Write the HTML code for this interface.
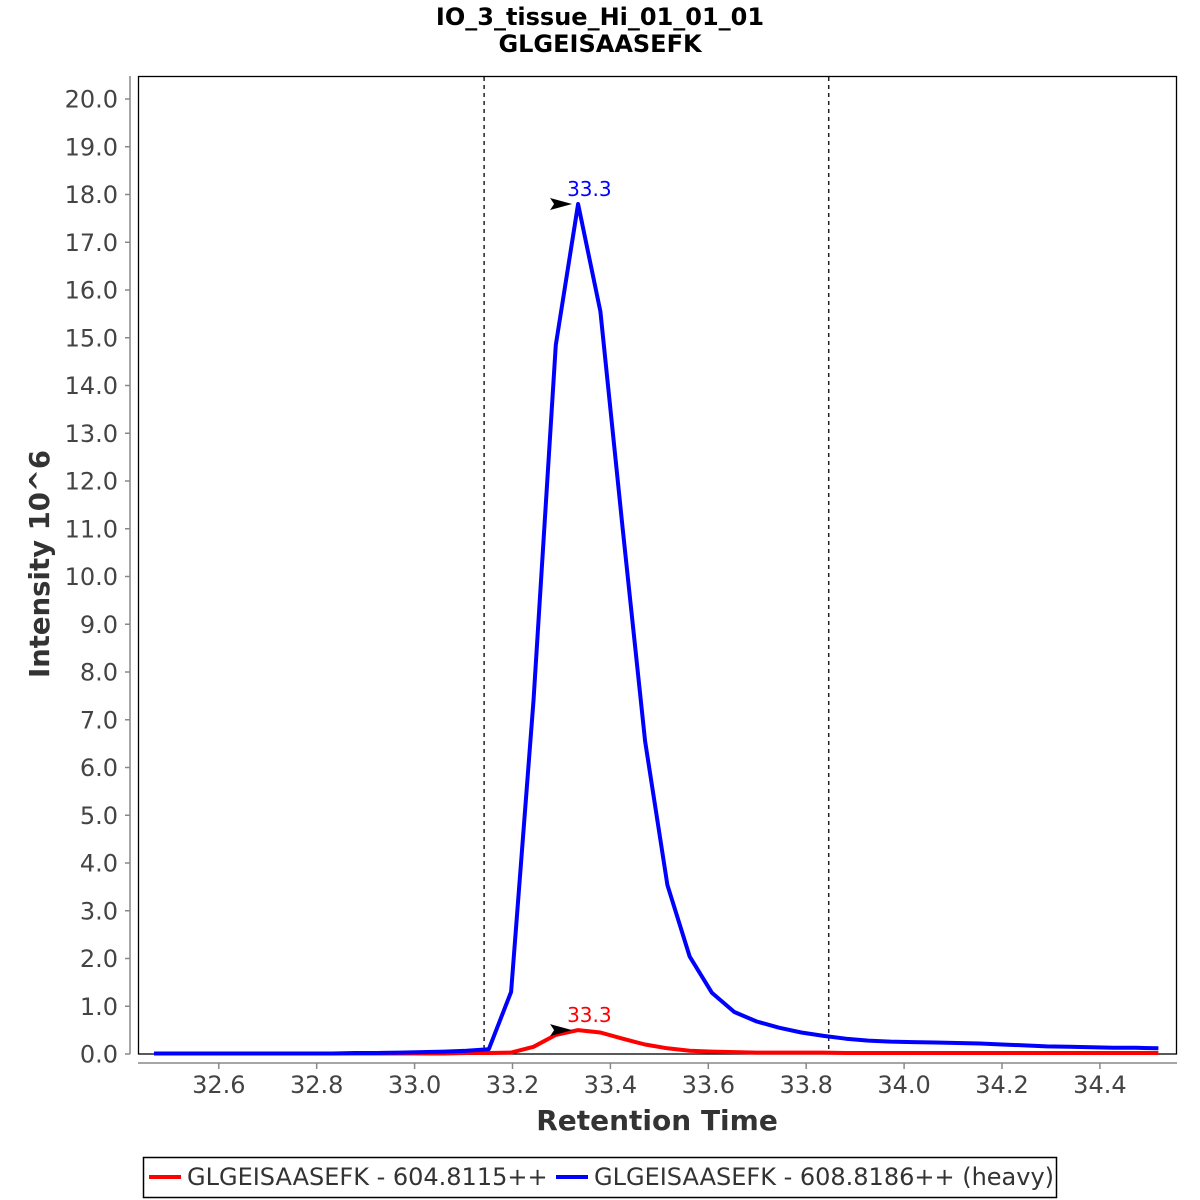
<!DOCTYPE html>
<html><head><meta charset="utf-8"><style>
body{margin:0;background:#fff;}
svg{display:block;font-family:"DejaVu Sans","Liberation Sans",sans-serif;}
</style></head><body>
<svg id="chart" width="1200" height="1200" viewBox="0 0 1200 1200">
<text x="600" y="25" text-anchor="middle" font-size="24" font-weight="bold">IO_3_tissue_Hi_01_01_01</text>
<text x="600" y="52" text-anchor="middle" font-size="24" font-weight="bold">GLGEISAASEFK</text>
<rect x="138.5" y="76.5" width="1038" height="977.5" fill="#fff" stroke="#000" stroke-width="1.3"/>
<g id="axes"></g>
<g id="series"></g>
<text transform="translate(49,564) rotate(-90)" text-anchor="middle" font-size="27.5" font-weight="bold" fill="#333">Intensity 10^6</text>
<text x="657" y="1130" text-anchor="middle" font-size="28" font-weight="bold" fill="#333">Retention Time</text>
<g>
<rect x="143.5" y="1157.5" width="913" height="40" fill="#fff" stroke="#000" stroke-width="1.5"/>
<line x1="149" y1="1177" x2="181" y2="1177" stroke="#f00" stroke-width="4"/>
<text x="187" y="1185" font-size="24" fill="#333">GLGEISAASEFK - 604.8115++</text>
<line x1="556" y1="1177" x2="588" y2="1177" stroke="#00f" stroke-width="4"/>
<text x="594" y="1185" font-size="24" fill="#333">GLGEISAASEFK - 608.8186++ (heavy)</text>
</g>
</svg>
<script>
const xTicks=[32.6,32.8,33.0,33.2,33.4,33.6,33.8,34.0,34.2,34.4];
const yTicks=[0,1,2,3,4,5,6,7,8,9,10,11,12,13,14,15,16,17,18,19,20];
const boundaries=[33.142,33.846];
const peakTime=33.334, dt=0.0456;
const heavy=[0.01,0.01,0.01,0.01,0.01,0.01,0.01,0.01,0.01,0.02,0.02,0.03,0.04,0.05,0.07,0.1,1.3,7.4,14.85,17.8,15.55,11.0,6.55,3.54,2.04,1.28,0.88,0.68,0.55,0.45,0.38,0.32,0.28,0.26,0.25,0.24,0.23,0.22,0.2,0.18,0.16,0.15,0.14,0.13,0.13,0.12];
const light=[0.01,0.01,0.01,0.01,0.01,0.01,0.01,0.01,0.01,0.01,0.01,0.01,0.01,0.01,0.02,0.02,0.03,0.15,0.4,0.5,0.45,0.32,0.2,0.12,0.07,0.05,0.04,0.03,0.03,0.03,0.03,0.02,0.02,0.02,0.02,0.02,0.02,0.02,0.02,0.02,0.02,0.02,0.02,0.02,0.02,0.02];
const NS="http://www.w3.org/2000/svg";
const X=t=>218.8+(t-32.6)*489.5;
const Y=v=>1054-v*47.75;
function mk(tag,attrs,parent){const e=document.createElementNS(NS,tag);for(const k in attrs)e.setAttribute(k,attrs[k]);parent.appendChild(e);return e;}
const ax=document.getElementById('axes'), sr=document.getElementById('series');
let a=mk('line',{x1:130,y1:76,x2:130,y2:1054,stroke:'#888','stroke-width':1.5},ax);


a=mk('line',{x1:138,y1:1063,x2:1177,y2:1063,stroke:'#888','stroke-width':1.5},ax);


yTicks.forEach(v=>{
 mk('line',{x1:125,y1:Y(v),x2:130,y2:Y(v),stroke:'#888','stroke-width':1.5},ax);
 const t=mk('text',{x:118,y:Y(v)+8.5,'text-anchor':'end','font-size':24,fill:'#444'},ax);
 t.textContent=v.toFixed(1);
 
 
});
xTicks.forEach(v=>{
 mk('line',{x1:X(v),y1:1063,x2:X(v),y2:1069,stroke:'#888','stroke-width':1.5},ax);
 const t=mk('text',{x:X(v),y:1093,'text-anchor':'middle','font-size':24,fill:'#444'},ax);
 t.textContent=v.toFixed(1);
 
 
});
boundaries.forEach(b=>{
 const l=mk('line',{x1:X(b),y1:77,x2:X(b),y2:1054,stroke:'#222','stroke-width':1.5,'stroke-dasharray':'4,4'},sr);
 
 
});
function series(vals,color,name){
 const pts=vals.map((v,i)=>X(peakTime+(i-19)*dt).toFixed(1)+','+Y(v).toFixed(1)).join(' ');
 const p=mk('polyline',{points:pts,fill:'none',stroke:color,'stroke-width':4,'stroke-linejoin':'round'},sr);
 
 
 let mi=0;vals.forEach((v,i)=>{if(v>vals[mi])mi=i;});
 const px=X(peakTime+(mi-19)*dt), py=Y(vals[mi]);
 const ar=mk('polygon',{points:`${px-6},${py} ${px-28},${py-6} ${px-24},${py} ${px-28},${py+6}`,fill:'#000'},sr);
 
 
 const lb=mk('text',{x:px-11,y:py-8,'font-size':20,fill:color},sr);
 lb.textContent=(peakTime+(mi-19)*dt).toFixed(1);
 
 
}
series(light,'#f00','light-series');
series(heavy,'#00f','heavy-series');
</script>
</body></html>
